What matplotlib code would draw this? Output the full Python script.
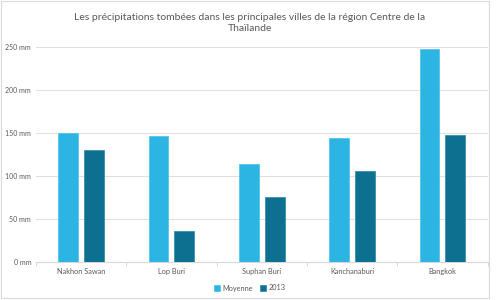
import matplotlib.pyplot as plt
import numpy as np

plt.rcParams['font.family'] = ['Lato', 'DejaVu Sans']

# Data
villes = ["Nakhon Sawan", "Lop Buri", "Suphan Buri", "Kanchanaburi", "Bangkok"]
moyenne = [150, 146, 114, 144, 247]
annee_2013 = [130, 36, 76, 106, 148]
series_labels = ["Moyenne", "2013"]
y_ticks = [0, 50, 100, 150, 200, 250]

col_moy = "#2cb5e2"
col_2013 = "#0e7090"
txt_col = "#595959"

fig = plt.figure(figsize=(5, 3), dpi=100)
ax = fig.add_axes([0.072, 0.1257, 0.903, 0.7186])

x = np.arange(len(villes))
w = 0.22
gap = 0.066
ax.bar(x - (w + gap) / 2, moyenne, width=w, color=col_moy, edgecolor="#45c3ec",
       linewidth=0.5, label=series_labels[0], zorder=3)
ax.bar(x + (w + gap) / 2, annee_2013, width=w, color=col_2013, edgecolor="#2a87a6",
       linewidth=0.5, label=series_labels[1], zorder=3)

ax.set_xlim(-0.5, len(villes) - 0.5)
ax.set_ylim(0, 250)
ax.set_yticks(y_ticks)
ax.set_yticklabels([f"{v} mm" for v in y_ticks], fontsize=5, color=txt_col)
ax.tick_params(axis="y", length=0, pad=3.5)

ax.set_xticks(x)
ax.set_xticklabels(villes, fontsize=5.3, color=txt_col)
ax.tick_params(axis="x", which="major", length=0, pad=4)
ax.set_xticks(np.arange(-0.5, len(villes)), minor=True)
ax.tick_params(axis="x", which="minor", length=3, color="#d9d9d9", width=0.8)

ax.grid(axis="y", color="#e0e0e0", linewidth=0.8, zorder=0)
for s in ["top", "right", "left"]:
    ax.spines[s].set_visible(False)
ax.spines["bottom"].set_color("#d9d9d9")
ax.spines["bottom"].set_linewidth(0.8)

fig.text(0.5, 0.958, "Les précipitations tombées dans les principales villes de la région Centre de la\nThaïlande",
         ha="center", va="top", fontsize=7.5, color=txt_col, linespacing=1.3)

leg = fig.legend(loc="center", bbox_to_anchor=(0.5, 0.04), ncol=2, frameon=False,
                 fontsize=5.3, handlelength=0.7, handleheight=0.7, handletextpad=0.4,
                 columnspacing=1.0)
for t in leg.get_texts():
    t.set_color(txt_col)

# light border around the chart
border = plt.Rectangle((0.002, 0.008), 0.976, 0.99, transform=fig.transFigure,
                       fill=False, edgecolor="#d9d9d9", linewidth=0.8)
fig.patches.append(border)

fig.savefig("out.png", dpi=100)
